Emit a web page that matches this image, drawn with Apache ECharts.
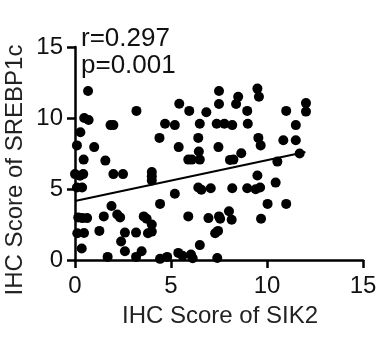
<!DOCTYPE html>
<html>
<head>
<meta charset="utf-8">
<script src="https://cdn.jsdelivr.net/npm/echarts@6/dist/echarts.min.js"></script>
<style>
html,body{margin:0;padding:0;background:#fff;}
#c{width:389px;height:349px;}
</style>
</head>
<body>
<div id="c"></div>
<script>
// IHC score of SIK2 (x) for each sample
const sik2 = [
  0.68, 0.48, 0.71, 0.28, 0.10, 1.00, 0.45, 1.58, 0.00, 0.26,
  0.43, 0.10, 0.37, 0.17, 0.38, 0.63, 0.12, 0.47, 0.35,
  1.85, 2.00, 3.20, 2.00, 2.50, 1.90, 1.50, 2.20, 2.35, 1.27,
  2.60, 3.18, 2.40, 2.60, 1.70, 3.18, 3.47,
  3.58, 3.73, 4.00, 3.80, 4.00, 4.00, 4.00, 4.00, 4.40, 4.69,
  5.20, 5.43, 4.43, 5.20, 4.43, 4.80,
  5.95, 5.40, 5.90, 6.08, 5.38, 5.60, 6.04, 6.13, 5.90,
  6.42, 6.58, 7.07, 6.50, 6.42, 6.45, 6.50, 6.84, 6.95, 6.50,
  7.50, 7.50, 8.50, 8.39, 7.38, 7.78, 8.19, 7.47, 8.66, 8.07,
  8.25, 8.19, 7.50, 7.56, 8.02, 8.16, 7.30, 7.45, 7.41,
  9.50, 9.58, 8.97, 9.00, 9.55, 9.67, 11.00, 12.03, 12.03, 11.50,
  10.85, 11.50, 10.54, 11.70, 9.50, 10.45, 8.97, 9.41, 9.64, 10.03,
  11.00, 9.69
];
// IHC score of SREBP1c (y) for each sample
const srebp1c = [
  11.90, 10.00, 9.86, 9.00, 8.07, 7.95, 7.07, 7.00, 6.05, 5.93,
  6.05, 5.10, 5.10, 3.00, 2.95, 2.95, 1.88, 1.90, 0.81,
  9.50, 9.50, 10.50, 6.05, 6.05, 3.80, 3.07, 3.20, 3.00, 2.05,
  1.93, 1.93, 1.30, 0.62, 0.22, 0.22, 0.62,
  3.07, 2.90, 2.50, 1.88, 2.00, 6.20, 5.90, 5.60, 8.60, 9.60,
  9.50, 11.00, 3.95, 4.66, 0.08, 0.22,
  10.50, 7.95, 7.07, 7.07, 0.50, 0.30, 0.38, 0.12, 3.07,
  5.10, 4.95, 5.05, 9.60, 8.60, 7.64, 7.07, 10.40, 2.95, 1.05,
  11.90, 10.98, 11.50, 10.98, 9.60, 9.60, 9.50, 7.95, 7.52, 7.05,
  7.07, 5.05, 3.07, 2.90, 3.43, 2.83, 1.88, 2.05, 0.14,
  12.07, 11.50, 10.50, 9.60, 8.60, 8.07, 10.50, 11.05, 10.45, 9.50,
  8.43, 8.43, 6.93, 7.50, 5.95, 5.45, 5.05, 4.98, 5.10, 3.95,
  3.95, 2.90
];
// Linear regression line endpoints
const fitX = [0, 12];
const fitY = [4.15, 7.6];
// Axis ticks
const xTicks = [0, 5, 10, 15];
const yTicks = [0, 5, 10, 15];
const stats = ['r=0.297', 'p=0.001'];
const xTitle = 'IHC Score of SIK2';
const yTitle = 'IHC Score of SREBP1c';

const FONT = '"Liberation Sans", Arial, Helvetica, sans-serif';
const points = sik2.map((x, i) => [x, srebp1c[i]]);
const fit = fitX.map((x, i) => [x, fitY[i]]);

const chart = echarts.init(document.getElementById('c'), null, {renderer: 'canvas'});
const axisCommon = {
  min: 0, max: 15, interval: 5,
  splitLine: {show: false},
  axisLine: {show: true, onZero: false, lineStyle: {color: '#000', width: 2.5}},
  axisTick: {show: true, length: 8, lineStyle: {color: '#000', width: 2.5}},
  axisLabel: {color: '#111', fontSize: 24, fontFamily: FONT}
};
chart.setOption({
  animation: false,
  backgroundColor: '#fff',
  grid: {left: 75, right: 26, top: 47, bottom: 89, containLabel: false},
  xAxis: Object.assign({type: 'value'}, axisCommon, {
    axisLabel: Object.assign({}, axisCommon.axisLabel, {margin: 14,
      formatter: v => xTicks.includes(v) ? String(v) : ''})
  }),
  yAxis: Object.assign({type: 'value'}, axisCommon, {
    axisLabel: Object.assign({}, axisCommon.axisLabel, {margin: 12,
      formatter: v => yTicks.includes(v) ? String(v) : ''})
  }),
  graphic: [
    {type: 'text', left: 81, top: 26, style: {text: stats[0], font: '26px ' + FONT, fill: '#111'}},
    {type: 'text', left: 81, top: 53, style: {text: stats[1], font: '26px ' + FONT, fill: '#111'}},
    {type: 'text', x: 220, y: 316, style: {text: xTitle, font: '24px ' + FONT, fill: '#222', align: 'center', verticalAlign: 'middle'}},
    {type: 'text', x: 15, y: 170, rotation: Math.PI / 2, style: {text: yTitle, font: '24px ' + FONT, fill: '#222', align: 'center', verticalAlign: 'middle'}}
  ],
  series: [
    {type: 'scatter', data: points, symbol: 'circle', symbolSize: 10, clip: false,
     itemStyle: {color: '#000', opacity: 1}},
    {type: 'line', data: fit, symbol: 'none', lineStyle: {color: '#000', width: 2}, z: 3}
  ]
});
</script>
</body>
</html>
